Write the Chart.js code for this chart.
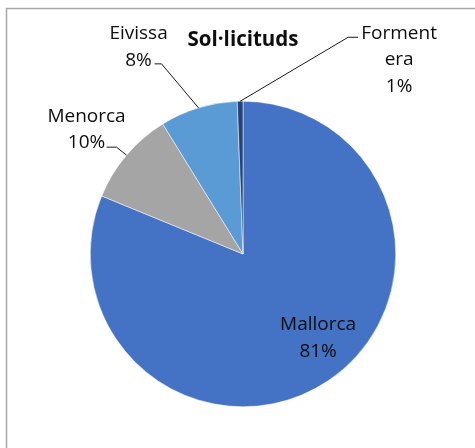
<!DOCTYPE html>
<html>
<head>
<meta charset="utf-8">
<script src="https://cdn.jsdelivr.net/npm/chart.js@4.4.0/dist/chart.umd.min.js"></script>
<style>
    html, body { margin: 0; padding: 0; background: #fff; overflow: hidden; }
    #wrap { width: 475px; height: 448px; position: relative; }
</style>
</head>
<body>
<div id="wrap"><canvas id="myChart" width="475" height="448"></canvas></div>
<script>
const illes = ["Mallorca", "Menorca", "Eivissa", "Formentera"];
const sollicituds = [81.2, 10.0, 8.2, 0.6];
const colors = ["#4472C4", "#A5A5A5", "#5B9BD5", "#264478"];

// how each label is split into lines, and where it sits relative to its slice
const labelLines = [["Mallorca"], ["Menorca"], ["Eivissa"], ["Forment", "era"]];
const labelPlace = [
    { inside: true, r: 0.73, dx: 13, dy: -22 },
    { elbow: [-10, -8], tail: 10, dx: -40, dy: -39 },
    { elbow: [-37, -44], tail: 7, dx: -60, dy: -74 },
    { elbow: [108, -64], tail: 10, dx: 159, dy: -68 }
];

const total = sollicituds.reduce((a, b) => a + b, 0);
const FONT = "'Open Sans', 'Noto Sans', sans-serif";
const LH = 26.5;

/* draws the frame, the title, the leader lines and the data labels */
const labelsPlugin = {
    id: "excelLabels",
    afterDraw(chart) {
        const ctx = chart.ctx;
        ctx.save();

        // outer frame (only top and left are inside the picture)
        ctx.strokeStyle = "#a6a6a6";
        ctx.lineWidth = 1.5;
        ctx.beginPath();
        ctx.moveTo(6.5, 448);
        ctx.lineTo(6.5, 8.5);
        ctx.lineTo(475, 8.5);
        ctx.stroke();

        // title
        ctx.fillStyle = "#0d0d0d";
        ctx.font = "bold 20.5px " + FONT;
        ctx.textAlign = "center";
        ctx.textBaseline = "middle";
        ctx.fillText("Sol·licituds", 243, 40);

        const meta = chart.getDatasetMeta(0);
        meta.data.forEach((arc, i) => {
            const p = labelPlace[i];
            const mid = (arc.startAngle + arc.endAngle) / 2;
            const pct = Math.round(sollicituds[i] / total * 100) + "%";
            const lines = labelLines[i].concat([pct]);
            let ex, ey;
            if (p.inside) {
                ex = arc.x + Math.cos(mid) * arc.outerRadius * p.r;
                ey = arc.y + Math.sin(mid) * arc.outerRadius * p.r;
            } else {
                ex = arc.x + Math.cos(mid) * arc.outerRadius;
                ey = arc.y + Math.sin(mid) * arc.outerRadius;
                // leader line
                const bx = ex + p.elbow[0], by = ey + p.elbow[1];
                const tx = bx + (p.elbow[0] < 0 ? -p.tail : p.tail);
                ctx.strokeStyle = "#1a1a1a";
                ctx.lineWidth = 1;
                ctx.beginPath();
                ctx.moveTo(ex, ey);
                ctx.lineTo(bx, by);
                ctx.lineTo(tx, by);
                ctx.stroke();
            }
            ctx.font = "19px " + FONT;
            ctx.fillStyle = "#0d0d0d";
            ctx.textAlign = "center";
            ctx.textBaseline = "middle";
            const cx = ex + p.dx, cy = ey + p.dy;
            lines.forEach((t, k) => ctx.fillText(t, cx, cy + k * LH));
        });
        ctx.restore();
    }
};

new Chart("myChart", {
    type: "pie",
    data: {
        labels: illes,
        datasets: [{
            data: sollicituds,
            backgroundColor: colors,
            borderColor: "#ffffff",
            borderWidth: 0.5
        }]
    },
    options: {
        responsive: false,
        animation: false,
        layout: {
            padding: { top: 101, bottom: 41, left: 90, right: 79 }
        },
        plugins: {
            legend: { display: false },
            tooltip: { enabled: false }
        }
    },
    plugins: [labelsPlugin]
});
</script>
</body>
</html>
